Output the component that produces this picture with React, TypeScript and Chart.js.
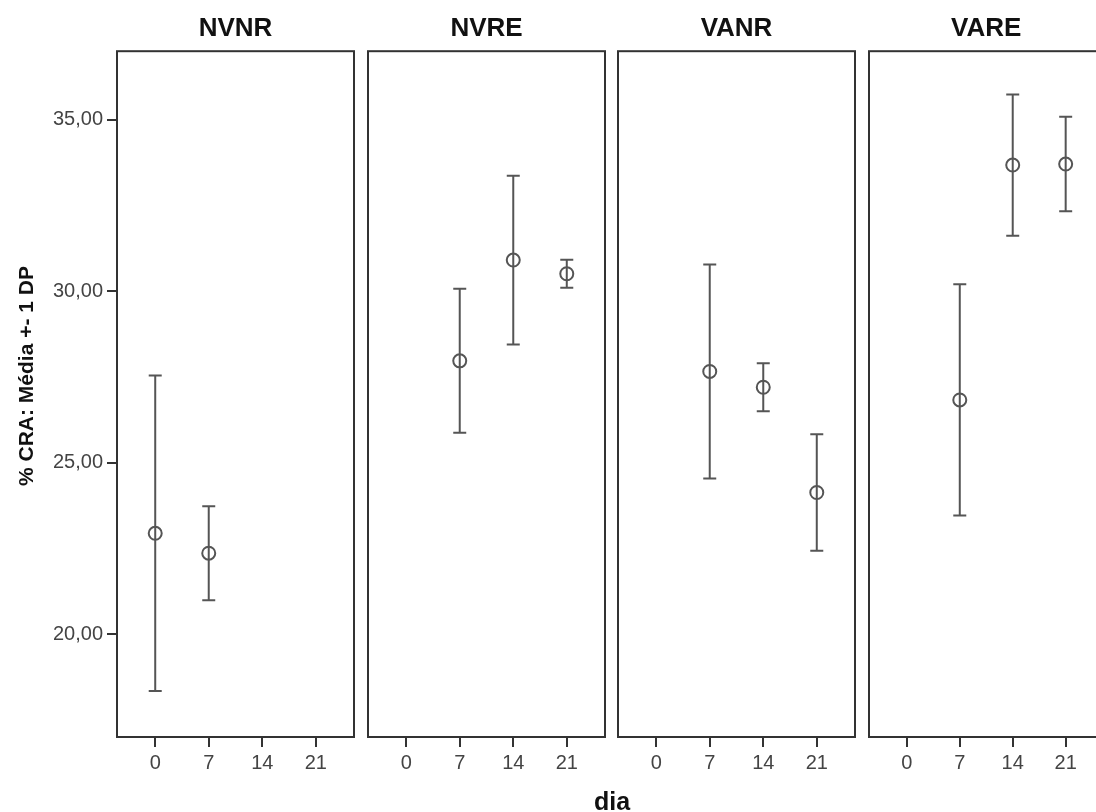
import React, { useEffect, useRef } from "react";
import { Chart, registerables } from "chart.js";

Chart.register(...registerables);

// ---- data ----
const panelNames = ["NVNR", "NVRE", "VANR", "VARE"];
const days = [0, 7, 14, 21];
const meanNVNR = [22.94, 22.36, null, null];
const sdNVNR = [4.6, 1.37, null, null];
const meanNVRE = [null, 27.97, 30.91, 30.51];
const sdNVRE = [null, 2.1, 2.46, 0.41];
const meanVANR = [null, 27.66, 27.2, 24.13];
const sdVANR = [null, 3.12, 0.7, 1.7];
const meanVARE = [null, 26.83, 33.68, 33.71];
const sdVARE = [null, 3.37, 2.06, 1.38];
const yTickValues = [20, 25, 30, 35];
const xTickValues = [0, 7, 14, 21];
const yTitle = "% CRA: Média +- 1 DP";
const xTitle = "dia";

const panelMeans = [meanNVNR, meanNVRE, meanVANR, meanVARE];
const panelSds = [sdNVNR, sdNVRE, sdVANR, sdVARE];

// ---- layout ----
const W = 1096;
const H = 812;
const BOX_LEFTS = [117, 368, 618, 869];
const BOX_W = 237;
const BOX_BOTTOM = 737;
const X_AXIS_H = 40;
const Y_AXIS_W = 80;
const FONT = '"Liberation Sans", Arial, Helvetica, sans-serif';

Chart.defaults.font.family = FONT;

function Panel({ index }: { index: number }) {
  const ref = useRef<HTMLCanvasElement | null>(null);
  const canvasW = index === 3 ? 1112 : W;
  useEffect(() => {
    const canvas = ref.current;
    if (!canvas) return;
    const means = panelMeans[index];
    const sds = panelSds[index];
    const pts: { x: number; y: number; sd: number }[] = [];
    days.forEach((d, k) => {
      const m = means[k];
      const s = sds[k];
      if (m !== null && s !== null) pts.push({ x: d, y: m as number, sd: s as number });
    });
    const boxLeft = BOX_LEFTS[index];
    const yW = index === 0 ? Y_AXIS_W : 0;

    const panelPlugin = {
      id: "panelDeco" + index,
      beforeDatasetsDraw(chart: any) {
        const ctx = chart.ctx;
        const xs = chart.scales.x;
        const ys = chart.scales.y;
        ctx.save();
        ctx.strokeStyle = "#555";
        ctx.lineWidth = 2;
        pts.forEach((p) => {
          const px = xs.getPixelForValue(p.x);
          const yt = ys.getPixelForValue(p.y + p.sd);
          const yb = ys.getPixelForValue(p.y - p.sd);
          ctx.beginPath();
          ctx.moveTo(px, yt);
          ctx.lineTo(px, yb);
          ctx.moveTo(px - 6.5, yt);
          ctx.lineTo(px + 6.5, yt);
          ctx.moveTo(px - 6.5, yb);
          ctx.lineTo(px + 6.5, yb);
          ctx.stroke();
        });
        ctx.restore();
      },
      afterDraw(chart: any) {
        const ctx = chart.ctx;
        const a = chart.chartArea;
        ctx.save();
        ctx.strokeStyle = "#333";
        ctx.lineWidth = 2;
        ctx.strokeRect(a.left, a.top, a.right - a.left, a.bottom - a.top);
        if (index === 0) {
          ctx.fillStyle = "#111";
          ctx.font = "bold 21px " + FONT;
          ctx.textAlign = "center";
          ctx.textBaseline = "middle";
          ctx.save();
          ctx.translate(27, 376);
          ctx.rotate(-Math.PI / 2);
          ctx.fillText(yTitle, 0, 0);
          ctx.restore();
          ctx.font = "bold 25px " + FONT;
          ctx.textBaseline = "alphabetic";
          ctx.fillText(xTitle, 612, 810);
        }
        ctx.restore();
      },
    };

    const chart = new Chart(canvas, {
      type: "scatter",
      data: {
        datasets: [
          {
            data: pts.map((p) => ({ x: p.x, y: p.y })),
            pointStyle: "circle",
            pointRadius: 6.5,
            pointHoverRadius: 6.5,
            pointBorderWidth: 2,
            borderColor: "#555",
            backgroundColor: "rgba(0,0,0,0)",
            showLine: false,
          },
        ],
      },
      options: {
        responsive: false,
        animation: false,
        events: [],
        layout: {
          padding: {
            left: boxLeft - yW,
            right: canvasW - (boxLeft + BOX_W),
            top: 0,
            bottom: H - BOX_BOTTOM - X_AXIS_H,
          },
        },
        plugins: {
          legend: { display: false },
          tooltip: { enabled: false },
          title: {
            display: true,
            text: panelNames[index],
            fullSize: false,
            color: "#111",
            font: { size: 26, weight: "bold", family: FONT },
            padding: { top: 13, bottom: 7 },
          },
        },
        scales: {
          x: {
            type: "linear",
            min: -5,
            max: 26,
            afterBuildTicks: (s: any) => {
              s.ticks = xTickValues.map((v) => ({ value: v }));
            },
            afterFit: (s: any) => {
              s.height = X_AXIS_H;
            },
            ticks: {
              color: "#444",
              font: { size: 20, family: FONT },
              padding: 4,
              maxRotation: 0,
              autoSkip: false,
              callback: (v: any) => String(v),
            },
            grid: {
              display: true,
              drawOnChartArea: false,
              drawTicks: true,
              tickLength: 10,
              tickWidth: 2,
              tickColor: "#333",
              color: "#333",
              lineWidth: 2,
            },
            border: { display: false },
          },
          y: {
            type: "linear",
            display: index === 0,
            min: 17,
            max: 37,
            afterBuildTicks: (s: any) => {
              s.ticks = yTickValues.map((v) => ({ value: v }));
            },
            afterFit: (s: any) => {
              s.width = yW;
            },
            ticks: {
              color: "#444",
              font: { size: 20, family: FONT },
              padding: 4,
              callback: (v: any) => Number(v).toFixed(2).replace(".", ","),
            },
            grid: {
              display: true,
              drawOnChartArea: false,
              drawTicks: true,
              tickLength: 10,
              tickWidth: 2,
              tickColor: "#333",
              color: "#333",
              lineWidth: 2,
            },
            border: { display: false },
          },
        },
      },
      plugins: [panelPlugin],
    } as any);
    return () => chart.destroy();
  }, [index]);

  return (
    <canvas
      ref={ref}
      width={canvasW}
      height={H}
      style={{ position: "absolute", left: 0, top: 0, width: canvasW, height: H }}
    />
  );
}

export default function App() {
  return (
    <div
      style={{
        position: "fixed",
        left: 0,
        top: 0,
        width: W,
        height: H,
        overflow: "hidden",
        background: "#fff",
      }}
    >
      {panelNames.map((_, i) => (
        <Panel key={i} index={i} />
      ))}
    </div>
  );
}
